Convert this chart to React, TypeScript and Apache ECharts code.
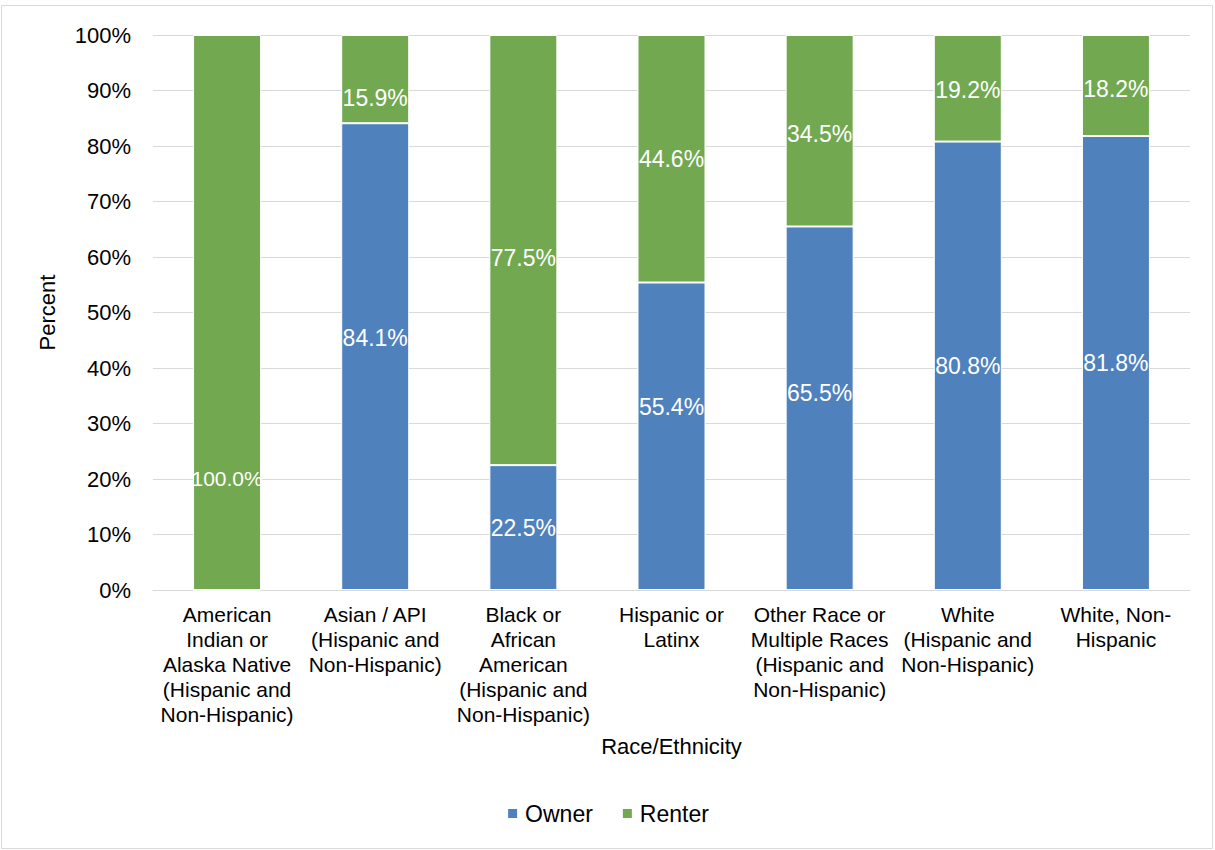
import React, { useEffect, useRef } from "react";
import * as echarts from "echarts";

const categories = [
  "American\nIndian or\nAlaska Native\n(Hispanic and\nNon-Hispanic)",
  "Asian / API\n(Hispanic and\nNon-Hispanic)",
  "Black or\nAfrican\nAmerican\n(Hispanic and\nNon-Hispanic)",
  "Hispanic or\nLatinx",
  "Other Race or\nMultiple Races\n(Hispanic and\nNon-Hispanic)",
  "White\n(Hispanic and\nNon-Hispanic)",
  "White, Non-\nHispanic",
];
const ownerValues = [0, 84.1, 22.5, 55.4, 65.5, 80.8, 81.8];
const renterValues = [100, 15.9, 77.5, 44.6, 34.5, 19.2, 18.2];
const yTicks = [0, 10, 20, 30, 40, 50, 60, 70, 80, 90, 100];

// label nudges (pixels) to mimic the manually placed labels of the original
const ownerLabelNudge = [0, -19, 0, -29, -15, 0, 0];
const renterLabelNudge = [166, 19, 8, 0, 3, 2, 3];

const FONT = "Liberation Sans, Arial, sans-serif";
const BLUE = "#4F81BD";
const GREEN = "#71A850";

export default function App() {
  const ref = useRef<HTMLDivElement>(null);
  useEffect(() => {
    if (!ref.current) return;
    const chart = echarts.init(ref.current, undefined, { renderer: "svg" });
    const fmt = (p: any) => (p.value > 0 ? p.value.toFixed(1) + "%" : "");
    const mk = (vals: number[], nudges: number[]) =>
      vals.map((v, i) => ({
        value: v,
        label: { offset: [0, nudges[i]], fontSize: v >= 100 ? 21 : 23 },
      }));
    chart.setOption({
      animation: false,
      textStyle: { fontFamily: FONT },
      graphic: [
        {
          type: "rect",
          shape: { x: 1.5, y: 5.5, width: 1211, height: 843 },
          style: { fill: "none", stroke: "#d9d9d9", lineWidth: 1 },
          silent: true,
        },
      ],
      grid: { left: 153, right: 25, top: 35, bottom: 260, containLabel: false },
      legend: {
        bottom: 20,
        left: "center",
        itemWidth: 11,
        itemHeight: 11,
        itemGap: 28,
        icon: "rect",
        textStyle: { fontFamily: FONT, fontSize: 23, color: "#000", padding: [0, 0, 0, 2] },
        data: ["Owner", "Renter"],
      },
      xAxis: {
        type: "category",
        data: categories,
        name: "Race/Ethnicity",
        nameLocation: "middle",
        nameGap: 145,
        nameTextStyle: { fontFamily: FONT, fontSize: 22, color: "#000" },
        axisLine: { lineStyle: { color: "#d9d9d9", width: 1 } },
        axisTick: { show: false },
        axisLabel: {
          interval: 0,
          margin: 12,
          fontFamily: FONT,
          fontSize: 21,
          lineHeight: 25,
          color: "#000",
        },
      },
      yAxis: {
        type: "value",
        min: 0,
        max: 100,
        interval: 10,
        name: "Percent",
        nameLocation: "middle",
        nameGap: 95,
        nameTextStyle: { fontFamily: FONT, fontSize: 22, color: "#000" },
        axisLine: { show: false },
        axisTick: { show: false },
        splitLine: { lineStyle: { color: "#d9d9d9", width: 1 } },
        axisLabel: {
          margin: 22,
          fontFamily: FONT,
          fontSize: 22,
          color: "#000",
          formatter: (v: number) => (yTicks.includes(v) ? v + "%" : ""),
        },
      },
      series: [
        {
          name: "Owner",
          type: "bar",
          stack: "total",
          barWidth: 68,
          data: mk(ownerValues, ownerLabelNudge),
          itemStyle: { color: BLUE, borderColor: "#fff", borderWidth: 1 },
          label: {
            show: true,
            position: "inside",
            color: "#fff",
            fontFamily: FONT,
            fontSize: 23,
            formatter: fmt,
          },
        },
        {
          name: "Renter",
          type: "bar",
          stack: "total",
          barWidth: 68,
          data: mk(renterValues, renterLabelNudge),
          itemStyle: { color: GREEN, borderColor: "#fff", borderWidth: 1 },
          label: {
            show: true,
            position: "inside",
            color: "#fff",
            fontFamily: FONT,
            fontSize: 23,
            formatter: fmt,
          },
        },
      ],
    });
    return () => chart.dispose();
  }, []);
  return (
    <div
      ref={ref}
      style={{ position: "absolute", left: 0, top: 0, width: 1215, height: 850, background: "#fff" }}
    />
  );
}
